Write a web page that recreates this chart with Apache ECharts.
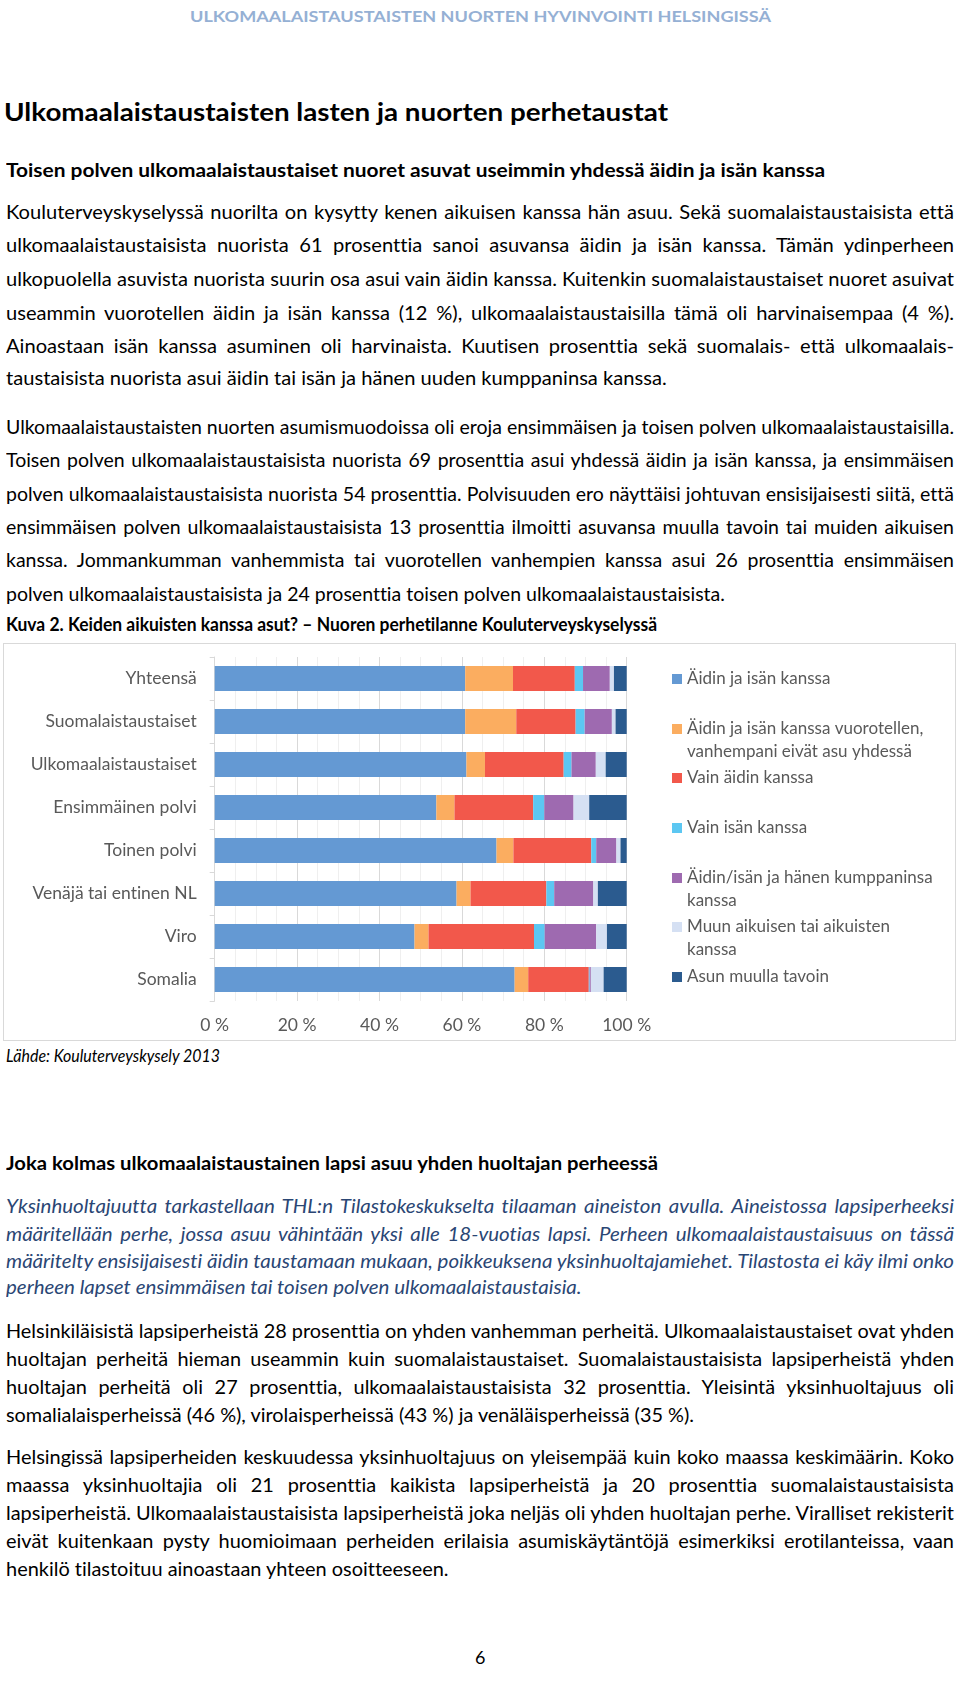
<!DOCTYPE html>
<html><head><meta charset="utf-8">
<script src="https://cdn.jsdelivr.net/npm/echarts@6/dist/echarts.min.js"></script>
<style>
html,body{margin:0;padding:0;background:#fff;}
body{width:960px;height:1685px;position:relative;overflow:hidden;font-family:Lato,'Open Sans',sans-serif;font-variant-ligatures:none;font-feature-settings:"liga" 0,"clig" 0;}
.ln{position:absolute;left:6px;white-space:nowrap;height:26px;line-height:26px;font-size:19px;color:#000;transform-origin:0 50%;}
.it{font-style:italic;color:#2a4674;}
.b{font-weight:bold;}
#chart{position:absolute;left:3px;top:643px;width:951px;height:396px;border:1px solid #d9d9d9;}
</style></head><body>

<div class="ln b" data-y="16" data-w="581" style="left:190px;font-size:16px;color:#95b0d4;">ULKOMAALAISTAUSTAISTEN NUORTEN HYVINVOINTI HELSINGISSÄ</div>
<div class="ln b" data-y="111" data-w="664" style="left:4px;font-size:25px;height:32px;line-height:32px;">Ulkomaalaistaustaisten lasten ja nuorten perhetaustat</div>
<div class="ln b" data-y="170" data-w="819" style="font-size:19px;">Toisen polven ulkomaalaistaustaiset nuoret asuvat useimmin yhdessä äidin ja isän kanssa</div>

<div class="ln j" data-p="1" data-y="211.8">Kouluterveyskyselyssä nuorilta on kysytty kenen aikuisen kanssa hän asuu. Sekä suomalaistaustaisista että</div>
<div class="ln j" data-p="1" data-y="245.1">ulkomaalaistaustaisista nuorista 61 prosenttia sanoi asuvansa äidin ja isän kanssa. Tämän ydinperheen</div>
<div class="ln j" data-p="1" data-y="278.5">ulkopuolella asuvista nuorista suurin osa asui vain äidin kanssa. Kuitenkin suomalaistaustaiset nuoret asuivat</div>
<div class="ln j" data-p="1" data-y="312.9">useammin vuorotellen äidin ja isän kanssa (12 %), ulkomaalaistaustaisilla tämä oli harvinaisempaa (4 %).</div>
<div class="ln j" data-p="1" data-y="346.2">Ainoastaan isän kanssa asuminen oli harvinaista. Kuutisen prosenttia sekä suomalais- että ulkomaalais-</div>
<div class="ln" data-p="1" data-y="378.4">taustaisista nuorista asui äidin tai isän ja hänen uuden kumppaninsa kanssa.</div>

<div class="ln j" data-p="2" data-y="426.8">Ulkomaalaistaustaisten nuorten asumismuodoissa oli eroja ensimmäisen ja toisen polven ulkomaalaistaustaisilla.</div>
<div class="ln j" data-p="2" data-y="460.1">Toisen polven ulkomaalaistaustaisista nuorista 69 prosenttia asui yhdessä äidin ja isän kanssa, ja ensimmäisen</div>
<div class="ln j" data-p="2" data-y="493.5">polven ulkomaalaistaustaisista nuorista 54 prosenttia. Polvisuuden ero näyttäisi johtuvan ensisijaisesti siitä, että</div>
<div class="ln j" data-p="2" data-y="526.8">ensimmäisen polven ulkomaalaistaustaisista 13 prosenttia ilmoitti asuvansa muulla tavoin tai muiden aikuisen</div>
<div class="ln j" data-p="2" data-y="560.1">kanssa. Jommankumman vanhemmista tai vuorotellen vanhempien kanssa asui 26 prosenttia ensimmäisen</div>
<div class="ln" data-p="2" data-y="593.5">polven ulkomaalaistaustaisista ja 24 prosenttia toisen polven ulkomaalaistaustaisista.</div>

<div class="ln b" data-y="623.6" data-w="651" style="font-size:19px;">Kuva 2. Keiden aikuisten kanssa asut? – Nuoren perhetilanne Kouluterveyskyselyssä</div>

<div id="chart"></div>

<div class="ln" data-y="1054.7" data-w="214" style="font-style:italic;font-size:18px;">Lähde: Kouluterveyskysely 2013</div>

<div class="ln b" data-y="1163.3" data-w="652" style="font-size:19px;">Joka kolmas ulkomaalaistaustainen lapsi asuu yhden huoltajan perheessä</div>

<div class="ln j it" data-p="3" data-y="1206.2">Yksinhuoltajuutta tarkastellaan THL:n Tilastokeskukselta tilaaman aineiston avulla. Aineistossa lapsiperheeksi</div>
<div class="ln j it" data-p="3" data-y="1234.2">määritellään perhe, jossa asuu vähintään yksi alle 18-vuotias lapsi. Perheen ulkomaalaistaustaisuus on tässä</div>
<div class="ln j it" data-p="3" data-y="1261.1">määritelty ensisijaisesti äidin taustamaan mukaan, poikkeuksena yksinhuoltajamiehet. Tilastosta ei käy ilmi onko</div>
<div class="ln it" data-p="3" data-y="1286.9">perheen lapset ensimmäisen tai toisen polven ulkomaalaistaustaisia.</div>

<div class="ln j" data-p="4" data-y="1331">Helsinkiläisistä lapsiperheistä 28 prosenttia on yhden vanhemman perheitä. Ulkomaalaistaustaiset ovat yhden</div>
<div class="ln j" data-p="4" data-y="1358.9">huoltajan perheitä hieman useammin kuin suomalaistaustaiset. Suomalaistaustaisista lapsiperheistä yhden</div>
<div class="ln j" data-p="4" data-y="1386.8">huoltajan perheitä oli 27 prosenttia, ulkomaalaistaustaisista 32 prosenttia. Yleisintä yksinhuoltajuus oli</div>
<div class="ln" data-p="4" data-y="1414.8">somalialaisperheissä (46 %), virolaisperheissä (43 %) ja venäläisperheissä (35 %).</div>

<div class="ln j" data-p="5" data-y="1456.8">Helsingissä lapsiperheiden keskuudessa yksinhuoltajuus on yleisempää kuin koko maassa keskimäärin. Koko</div>
<div class="ln j" data-p="5" data-y="1484.7">maassa yksinhuoltajia oli 21 prosenttia kaikista lapsiperheistä ja 20 prosenttia suomalaistaustaisista</div>
<div class="ln j" data-p="5" data-y="1512.7">lapsiperheistä. Ulkomaalaistaustaisista lapsiperheistä joka neljäs oli yhden huoltajan perhe. Viralliset rekisterit</div>
<div class="ln j" data-p="5" data-y="1540.6">eivät kuitenkaan pysty huomioimaan perheiden erilaisia asumiskäytäntöjä esimerkiksi erotilanteissa, vaan</div>
<div class="ln" data-p="5" data-y="1568.5">henkilö tilastoituu ainoastaan yhteen osoitteeseen.</div>

<div class="ln" data-y="1657" style="left:475px;font-size:18px;">6</div>

<script>
// ---- chart data ----
const categories = ['Yhteensä','Suomalaistaustaiset','Ulkomaalaistaustaiset','Ensimmäinen polvi','Toinen polvi','Venäjä tai entinen NL','Viro','Somalia'];
const legendLabels = [
  'Äidin ja isän kanssa',
  'Äidin ja isän kanssa vuorotellen,\nvanhempani eivät asu yhdessä',
  'Vain äidin kanssa',
  'Vain isän kanssa',
  'Äidin/isän ja hänen kumppaninsa\nkanssa',
  'Muun aikuisen tai aikuisten\nkanssa',
  'Asun muulla tavoin'
];
const xTickLabels = ['0 %','20 %','40 %','60 %','80 %','100 %'];
const sAidinJaIsan   = [60.8, 60.8, 61.1, 53.8, 68.4, 58.7, 48.5, 72.8];
const sVuorotellen   = [11.6, 12.4,  4.5,  4.4,  4.1,  3.4,  3.4,  3.3];
const sVainAidin     = [15.0, 14.4, 19.1, 19.1, 18.9, 18.4, 25.6, 14.7];
const sVainIsan      = [ 2.0,  2.2,  1.9,  2.7,  1.2,  1.9,  2.6,  0.2];
const sKumppani      = [ 6.5,  6.6,  5.9,  7.1,  4.9,  9.5, 12.5,  0.3];
const sMuunAikuisen  = [ 1.0,  0.9,  2.4,  3.8,  1.0,  1.1,  2.6,  3.1];
const sMuullaTavoin  = [ 3.1,  2.7,  5.1,  9.1,  1.5,  7.0,  4.8,  5.6];
const seriesValues = [sAidinJaIsan, sVuorotellen, sVainAidin, sVainIsan, sKumppani, sMuunAikuisen, sMuullaTavoin];
const colors = ['#6499d3','#fbad60','#f2584b','#5cc7f2','#9e6ab0','#d5e0f3','#2b5b8f'];

// ---- text fitting ----
function fitText(){
  const els = Array.from(document.querySelectorAll('.ln'));
  els.forEach(el => {
    const h = parseFloat(getComputedStyle(el).height);
    el.style.top = (parseFloat(el.dataset.y) - h/2) + 'px';
    el.style.display = 'inline-block';
  });
  const target = 948;
  const groups = {};
  els.forEach(el => { if (el.dataset.p) (groups[el.dataset.p] = groups[el.dataset.p] || []).push(el); });
  Object.values(groups).forEach(list => {
    let s = 10;
    list.forEach(el => { if (el.classList.contains('j')) { const w = el.getBoundingClientRect().width; s = Math.min(s, target / w); } });
    s = Math.min(s, 1.12);
    list.forEach(el => {
      const w = el.getBoundingClientRect().width;
      if (el.classList.contains('j')) {
        const n = (el.textContent.match(/ /g) || []).length;
        el.style.wordSpacing = ((target / s - w) / n) + 'px';
      }
      el.style.transform = 'scaleX(' + s + ')';
    });
  });
  els.forEach(el => {
    if (el.dataset.w) {
      const w = el.getBoundingClientRect().width;
      el.style.transform = 'scaleX(' + (parseFloat(el.dataset.w) / w) + ')';
    }
  });
}

// ---- chart ----
function drawChart(){
  const chart = echarts.init(document.getElementById('chart'), null, {renderer: 'canvas'});
  const names = legendLabels.map(l => l.replace('\n', ' '));
  const legendCenters = [35, 85, 134, 184, 234, 283, 333];
  const legends = names.map((n, i) => {
    const two = legendLabels[i].indexOf('\n') >= 0;
    return {
      data: [n], orient: 'vertical', left: 668,
      top: legendCenters[i] - (two ? 34.5 : 11.5),
      padding: 0, itemWidth: 10, itemHeight: 10, icon: 'rect',
      selectedMode: false,
      formatter: () => (two ? ' \n' : '') + legendLabels[i],
      textStyle: {fontFamily: 'Lato', fontSize: 17, color: '#595959', lineHeight: 23}
    };
  });
  chart.setOption({
    animation: false,
    textStyle: {fontFamily: 'Lato'},
    legend: legends,
    grid: {left: 210.7, top: 13, width: 412, height: 344, containLabel: false},
    xAxis: {
      type: 'value', min: 0, max: 100, interval: 20,
      axisLine: {show: false}, axisTick: {show: false},
      axisLabel: {fontSize: 17.5, color: '#595959', margin: 15, formatter: v => xTickLabels[Math.round(v / 20)]},
      splitLine: {show: true, lineStyle: {color: '#d9d9d9', width: 1}},
      minorTick: {show: false, splitNumber: 4},
      minorSplitLine: {show: true, lineStyle: {color: '#efefef', width: 1}}
    },
    yAxis: {
      type: 'category', data: categories, inverse: true,
      axisLine: {show: true, lineStyle: {color: '#d9d9d9'}},
      axisTick: {show: true, length: 5, lineStyle: {color: '#d9d9d9'}},
      axisLabel: {fontSize: 17.5, color: '#595959', margin: 18}
    },
    series: names.map((n, i) => ({
      name: n, type: 'bar', stack: 'total', barWidth: 25,
      itemStyle: {color: colors[i]},
      data: seriesValues[i]
    }))
  });
}

drawChart();
if (document.fonts && document.fonts.ready) { document.fonts.ready.then(fitText); } else { fitText(); }
</script>
</body></html>
